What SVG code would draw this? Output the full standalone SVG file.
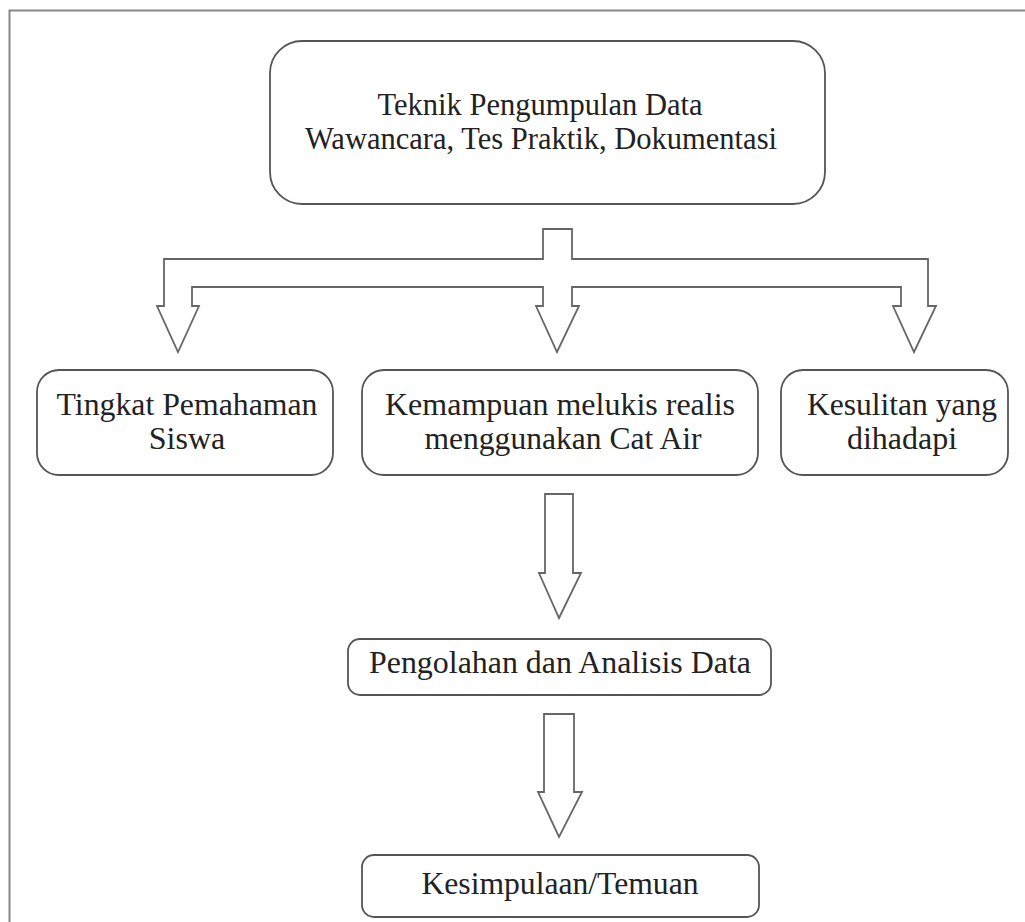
<svg xmlns="http://www.w3.org/2000/svg" width="1025" height="922" viewBox="0 0 1025 922">
<style>
.box{fill:#fff;stroke:#555;stroke-width:1.8}
.arr{fill:#fff;stroke:#666;stroke-width:1.8;stroke-linejoin:miter}
.t{font-size:32px;fill:#222;text-anchor:middle}
</style>
<rect width="1025" height="922" fill="#fff"/>
<path d="M9.5 922 V10.5 H1025" fill="none" stroke="#888" stroke-width="2"/>
<g id="connectors">
<path class="arr" d="M543 229 H572 V259 H928 V306 H936 L914 352 L893 306 H901 V287 H572 V306 H579 L557 352 L536 306 H543 V287 H192 V306 H199 L178 352 L157 306 H164 V259 H543 Z"/>
<path class="arr" d="M545 494 H573 V573 H581 L559 618 L539 573 H545 Z"/>
<path class="arr" d="M544 714 H574 V792 H582 L559 837 L538 792 H544 Z"/>
</g>
<g style="font-family:'Liberation Serif','Times New Roman',serif">
<g id="n1"><rect class="box" x="270" y="41" width="555" height="163" rx="32"/>
<text class="t" x="540" y="115" textLength="325" lengthAdjust="spacingAndGlyphs">Teknik Pengumpulan Data</text>
<text class="t" x="541" y="149" textLength="472" lengthAdjust="spacingAndGlyphs">Wawancara, Tes Praktik, Dokumentasi</text></g>
<g id="n2"><rect class="box" x="37" y="370" width="296" height="105" rx="22"/>
<text class="t" x="187" y="415" textLength="261" lengthAdjust="spacingAndGlyphs">Tingkat Pemahaman</text>
<text class="t" x="187" y="449">Siswa</text></g>
<g id="n3"><rect class="box" x="362" y="370" width="396" height="105" rx="22"/>
<text class="t" x="560" y="415" textLength="350" lengthAdjust="spacingAndGlyphs">Kemampuan melukis realis</text>
<text class="t" x="563" y="449" textLength="277" lengthAdjust="spacingAndGlyphs">menggunakan Cat Air</text></g>
<g id="n4"><rect class="box" x="781" y="370" width="227" height="105" rx="22"/>
<text class="t" x="902" y="415" textLength="190" lengthAdjust="spacingAndGlyphs">Kesulitan yang</text>
<text class="t" x="902" y="449">dihadapi</text></g>
<g id="n5"><rect class="box" x="348" y="639" width="423" height="56" rx="12"/>
<text class="t" x="560" y="673" textLength="382" lengthAdjust="spacingAndGlyphs">Pengolahan dan Analisis Data</text></g>
<g id="n6"><rect class="box" x="362" y="855" width="397" height="62" rx="12"/>
<text class="t" x="560" y="894" textLength="277" lengthAdjust="spacingAndGlyphs">Kesimpulaan/Temuan</text></g>
</g>
</svg>
